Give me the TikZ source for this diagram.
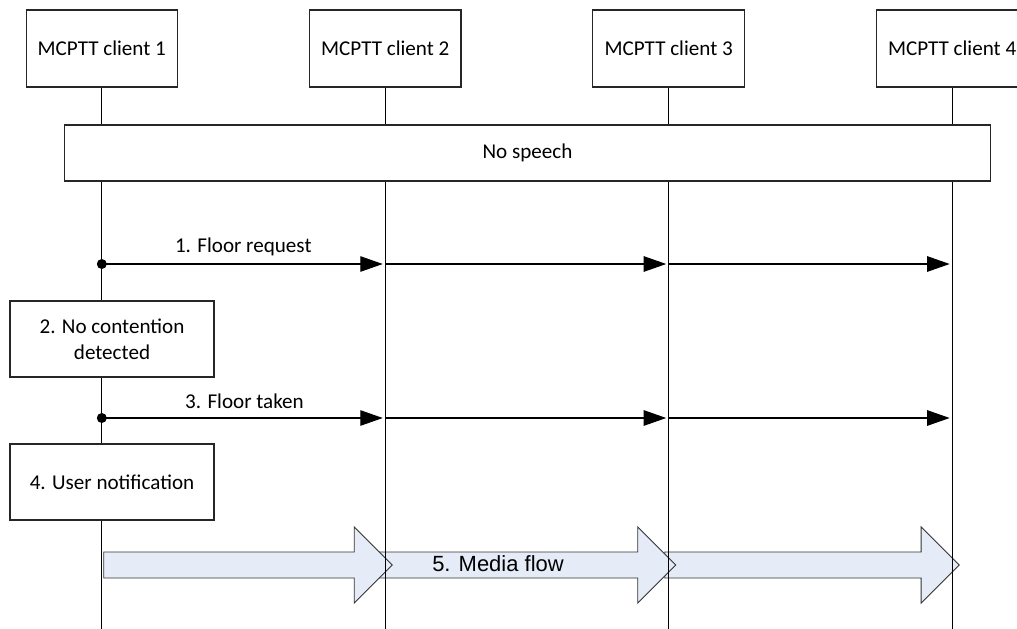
\documentclass[tikz,border=0pt]{standalone}
\usepackage{fontspec}
\setmainfont{Carlito}
\newfontfamily\flowfont{Liberation Sans}
\usepackage{tikz}
\usetikzlibrary{arrows.meta,positioning,calc,backgrounds}
\definecolor{flowfill}{HTML}{E6ECF7}
\definecolor{flowline}{HTML}{333333}
\tikzset{
  client_box/.style={draw=black!85,fill=white,line width=0.6pt,
    minimum width=3.03cm,minimum height=1.54cm,font=\fontsize{12}{14.6}\selectfont,align=center},
  note_box/.style={draw=black!85,fill=white,line width=0.6pt,
    minimum width=4.08cm,minimum height=1.52cm,font=\fontsize{12}{14.6}\selectfont,align=center},
  wide_box/.style={draw=black!85,fill=white,line width=0.6pt,
    minimum width=18.52cm,minimum height=1.12cm,font=\fontsize{12}{14.6}\selectfont,align=center},
  lifeline/.style={draw=black,line width=0.6pt},
  msg/.style={-{Triangle[length=0.45cm,width=0.31cm]},draw=black,line width=0.6pt,shorten >=0.05cm},
  msg_lbl/.style={font=\fontsize{12}{14.6}\selectfont,inner sep=0pt},
  flow/.style={draw=flowline,fill=flowfill,line width=0.5pt,line join=miter},
}

\begin{document}
\begin{tikzpicture}[node distance=2.618cm]
    \useasboundingbox (0,0) rectangle (20.34,-12.58);
    \node[client_box] (c1) at (2.036,-0.97) {MCPTT client 1};
    \node[client_box,right=of c1] (c2) {MCPTT client 2};
    \node[client_box,right=of c2] (c3) {MCPTT client 3};
    \node[client_box,right=of c3] (c4) {MCPTT client 4};

    \coordinate (bot) at (0,-12.58);
    \coordinate (m1) at (0,-5.28);
    \coordinate (m3) at (0,-8.36);
    \coordinate (fy) at (0,-11.3);

    \node[wide_box] (nospeech) at (10.55,-3.06) {No speech};
    \node[note_box] (contention) at (2.24,-6.78) {2. No contention\\detected};
    \node[note_box] (notify) at (2.24,-9.64) {4. User notification};

    \begin{scope}[on background layer]
      % media flow, last segment first so the earlier heads sit on top
      \foreach \s/\t/\o in {c3/c4/-0.08,c2/c3/-0.12,c1/c2/0.04}{
        \coordinate (fa) at ($(\s.south |- fy)+(\o,0)$);
        \coordinate (fb) at ($(\t.south |- fy)+(0.14,0)$);
        \draw[flow] ($(fa)+(0,0.26)$) -- ($(fb)+(-0.76,0.26)$) -- ++(0,0.5) -- (fb)
          -- ($(fb)+(-0.76,-0.76)$) -- ++(0,0.5) -- ($(fa)+(0,-0.26)$) -- cycle;
      }
      \foreach \i in {1,...,4}
        \draw[lifeline] (c\i.south) -- (c\i.south |- bot);
    \end{scope}

    \node[font=\flowfont\fontsize{12.5}{15}\selectfont] (media) at (9.96,-11.28) {5. Media flow};

    \foreach \s/\t in {c1/c2,c2/c3,c3/c4}{
      \draw[msg] (\s.south |- m1) -- (\t.south |- m1);
      \draw[msg] (\s.south |- m3) -- (\t.south |- m3);
    }
    \fill (c1.south |- m1) circle (0.1);
    \fill (c1.south |- m3) circle (0.1);
    \node[msg_lbl] (floorreq) at (4.866,-4.94) {1. Floor request};
    \node[msg_lbl] (floortaken) at (4.89,-8.02) {3. Floor taken};
  \end{tikzpicture}
\end{document}
